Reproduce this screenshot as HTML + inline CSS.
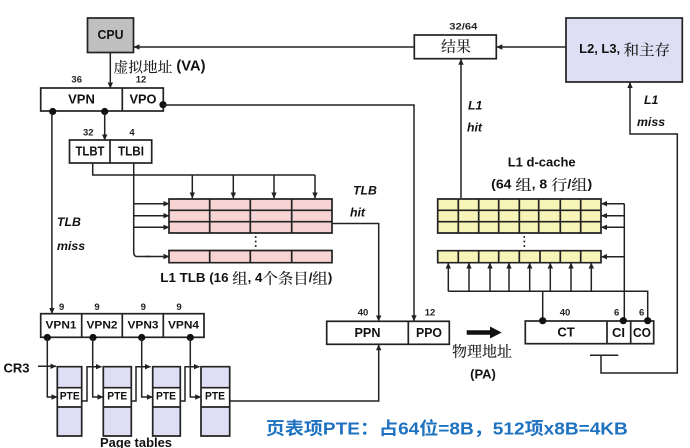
<!DOCTYPE html>
<html><head><meta charset="utf-8"><style>
html,body{margin:0;padding:0;background:#fff;width:690px;height:448px;overflow:hidden}
svg{display:block}
text{font-family:"Liberation Sans","Noto Sans CJK SC",sans-serif;font-weight:700;fill:#111;text-anchor:middle;dominant-baseline:central}
.n{font-size:9.5px;fill:#222}
.l{font-size:13px}
.i{font-size:12.3px;font-style:italic;text-anchor:start}
.s{font-family:"Liberation Sans","Noto Serif CJK SC",serif}
.c{font-family:"Noto Serif CJK SC",serif;font-weight:500;fill:#222}
.z{font-size:15px}
.b{fill:none;stroke:#222;stroke-width:1.7}
.w{fill:none;stroke:#222;stroke-width:1.5}
.a{marker-end:url(#m)}
</style></head><body>
<svg width="690" height="448" viewBox="0 0 690 448" xmlns="http://www.w3.org/2000/svg">
<defs><marker id="m" markerUnits="userSpaceOnUse" markerWidth="7" markerHeight="7" refX="6" refY="3.5" orient="auto"><path d="M0.5 0.8L6.5 3.5L0.5 6.2Z" fill="#222"/></marker></defs>

<!-- CPU -->
<rect x="87.5" y="18" width="46" height="34.5" class="b" style="fill:#c0c0c0"/>
<text x="110.5" y="34.5" class="l" textLength="26" lengthAdjust="spacingAndGlyphs">CPU</text>
<path class="w a" d="M110.3 53V88"/>
<text x="159.5" y="66.5" style="font-size:14.5px" class="s" textLength="92" lengthAdjust="spacingAndGlyphs"><tspan class="c">虚拟地址</tspan> (VA)</text>

<!-- VPN/VPO -->
<rect x="40.7" y="88" width="122.6" height="23" class="b" style="fill:#fff"/>
<path class="b" d="M122.3 88V111"/>
<text x="81.5" y="99" class="l">VPN</text>
<text x="143" y="99" class="l" textLength="27" lengthAdjust="spacingAndGlyphs">VPO</text>
<text x="76.7" y="80" class="n">36</text><text x="141" y="80" class="n">12</text>
<circle cx="52.7" cy="111.5" r="3.6" fill="#111"/><circle cx="104.7" cy="111.5" r="3.6" fill="#111"/><circle cx="163" cy="104.7" r="3.6" fill="#111"/>
<path class="w a" d="M104.7 112V140"/>
<path class="w a" d="M51.9 112V313.5"/>
<path class="w a" d="M163 105H414V320.7"/>

<!-- TLBT -->
<rect x="69.5" y="140" width="82.2" height="23" class="b" style="fill:#fff"/>
<path class="b" d="M110 140V163"/>
<text x="90" y="151" class="l" textLength="29" lengthAdjust="spacingAndGlyphs">TLBT</text>
<text x="131" y="151" class="l" textLength="26" lengthAdjust="spacingAndGlyphs">TLBI</text>
<text x="88.3" y="133" class="n">32</text><text x="132" y="133" class="n">4</text>
<path class="w" d="M92.7 163V175H315"/>
<path class="w a" d="M192.3 175V198"/><path class="w a" d="M233.3 175V198"/><path class="w a" d="M274 175V198"/><path class="w a" d="M315 175V198"/>
<path class="w" d="M133.7 163V252Q133.7 256.5 137 256.5H150"/>
<path class="w a" d="M133.7 203.7H169"/><path class="w a" d="M133.7 215.7H169"/><path class="w a" d="M133.7 227.3H169"/><path class="w a" d="M145 256.5H169"/>

<!-- TLB grid -->
<rect x="169" y="199" width="163" height="34" fill="#f7d3d3"/>
<rect x="169" y="250.5" width="163" height="12.2" fill="#f7d3d3"/>
<path class="b" d="M169 199H332V233H169ZM169 210.3H332M169 221.7H332M209.7 199V233M250.3 199V233M291.7 199V233M169 250.5H332V262.7H169ZM209.7 250.5V262.7M250.3 250.5V262.7M291.7 250.5V262.7"/>
<circle cx="255.7" cy="237" r="1" fill="#222"/><circle cx="255.7" cy="241.5" r="1" fill="#222"/><circle cx="255.7" cy="246" r="1" fill="#222"/>
<text x="246.3" y="277.5" style="font-size:13px" class="s" textLength="172" lengthAdjust="spacingAndGlyphs">L1 TLB (16 <tspan class="c z">组</tspan>, 4<tspan class="c z">个条目</tspan>/<tspan class="c z">组</tspan>)</text>

<text x="57" y="222" class="i">TLB</text><text x="57" y="246" class="i">miss</text>
<text x="353" y="190.7" class="i">TLB</text><text x="350" y="212.7" class="i">hit</text>
<path class="w a" d="M332 223.5H378.7V321"/>

<!-- Result / L2 -->
<rect x="414.3" y="35" width="82" height="23.7" class="b" style="fill:#fff"/>
<text x="456" y="46" class="c" style="font-size:15px">结果</text>
<text x="463.3" y="27" class="n" textLength="28" lengthAdjust="spacingAndGlyphs">32/64</text>
<rect x="566" y="18" width="116.3" height="64" class="b" style="fill:#dedff4"/>
<text x="624.7" y="49" class="s" style="font-size:12.5px" textLength="91" lengthAdjust="spacingAndGlyphs">L2, L3, <tspan class="c z">和主存</tspan></text>
<path class="w a" d="M566 47H496.8"/>
<path class="w a" d="M414 47H134"/>
<path class="w a" d="M461 198V59.2"/>
<text x="468" y="105.7" class="i">L1</text><text x="467" y="127.7" class="i">hit</text>
<text x="644" y="100" class="i">L1</text><text x="637" y="122" class="i">miss</text>
<path class="w a" d="M601 355V373H677.3V134H630V82.5"/>
<path class="w" d="M590 355.3H618.3"/>

<!-- d-cache -->
<text x="541.7" y="162" style="font-size:13px">L1 d-cache</text>
<text x="541.7" y="184" class="s" style="font-size:13px" textLength="101" lengthAdjust="spacingAndGlyphs">(64 <tspan class="c z">组</tspan>, 8 <tspan class="c z">行</tspan>/<tspan class="c z">组</tspan>)</text>
<rect x="437.7" y="199" width="163.3" height="34" fill="#f7f4b8"/>
<rect x="437.7" y="250.7" width="163.3" height="12" fill="#f7f4b8"/>
<path class="b" d="M437.7 199H601V233H437.7ZM437.7 210.3H601M437.7 221.7H601M458.3 199V233M478.7 199V233M498.7 199V233M519.3 199V233M538.7 199V233M560.3 199V233M580.7 199V233M437.7 250.7H601V262.7H437.7ZM458.3 250.7V262.7M478.7 250.7V262.7M498.7 250.7V262.7M519.3 250.7V262.7M540 250.7V262.7M560.3 250.7V262.7M580.7 250.7V262.7"/>
<circle cx="524.3" cy="237" r="1" fill="#222"/><circle cx="524.3" cy="241.5" r="1" fill="#222"/><circle cx="524.3" cy="246" r="1" fill="#222"/>
<path class="w" d="M624.3 321V203.7"/>
<path class="w a" d="M624.3 203.7H601.5"/><path class="w a" d="M624.3 215.7H601.5"/><path class="w a" d="M624.3 227.3H601.5"/><path class="w a" d="M624.3 256.7H601.5"/>
<path class="w" d="M448.3 291.3H647.7V321"/>
<path class="w" d="M542.7 291.3V321"/>
<path class="w a" d="M448.3 291.3V263"/><path class="w a" d="M469 291.3V263"/><path class="w a" d="M490 291.3V263"/><path class="w a" d="M509 291.3V263"/><path class="w a" d="M529.7 291.3V263"/><path class="w a" d="M550.3 291.3V263"/><path class="w a" d="M571 291.3V263"/><path class="w a" d="M591.3 291.3V263"/>

<!-- PPN/PPO -->
<rect x="326.7" y="321.3" width="122.6" height="23" class="b" style="fill:#fff"/>
<path class="b" d="M408.3 321.3V344.3"/>
<text x="367.5" y="332.5" class="l" textLength="26" lengthAdjust="spacingAndGlyphs">PPN</text>
<text x="429" y="332.5" class="l" textLength="26" lengthAdjust="spacingAndGlyphs">PPO</text>
<text x="363" y="313" class="n">40</text><text x="430" y="313" class="n">12</text>
<path d="M466.7 330.3H490V326.5L501.7 332.5L490 338.5V334.7H466.7Z" fill="#111"/>
<text x="482" y="351" class="c" style="font-size:15px">物理地址</text>
<text x="483" y="374" style="font-size:13px">(PA)</text>

<!-- CT -->
<rect x="525.3" y="321" width="128.4" height="22.7" class="b" style="fill:#fff"/>
<path class="b" d="M607 321V343.7M630.7 321V343.7"/>
<text x="566" y="332" class="l">CT</text><text x="618.5" y="332.5" class="l">CI</text><text x="642" y="332.5" class="l" textLength="18" lengthAdjust="spacingAndGlyphs">CO</text>
<text x="565" y="313" class="n">40</text><text x="616.7" y="313" class="n">6</text><text x="641.7" y="313" class="n">6</text>
<circle cx="542.7" cy="320.7" r="3.6" fill="#111"/><circle cx="623.3" cy="320.7" r="3.6" fill="#111"/><circle cx="647.7" cy="320.7" r="3.6" fill="#111"/>

<!-- VPN1-4 -->
<rect x="40.7" y="313.7" width="163.3" height="23.6" class="b" style="fill:#fff"/>
<path class="b" d="M81.7 313.7V337.3M122.3 313.7V337.3M163.3 313.7V337.3"/>
<text x="61" y="325.5" style="font-size:11px" textLength="31" lengthAdjust="spacingAndGlyphs">VPN1</text>
<text x="102" y="325.5" style="font-size:11px" textLength="31" lengthAdjust="spacingAndGlyphs">VPN2</text>
<text x="143" y="325.5" style="font-size:11px" textLength="31" lengthAdjust="spacingAndGlyphs">VPN3</text>
<text x="183.5" y="325.5" style="font-size:11px" textLength="31" lengthAdjust="spacingAndGlyphs">VPN4</text>
<text x="61.7" y="307.3" class="n">9</text><text x="97" y="307.3" class="n">9</text><text x="143.3" y="307.3" class="n">9</text><text x="179" y="307.3" class="n">9</text>
<circle cx="47.3" cy="337.5" r="3.6" fill="#111"/><circle cx="93" cy="337.5" r="3.6" fill="#111"/><circle cx="141.7" cy="337.5" r="3.6" fill="#111"/><circle cx="190.3" cy="337.5" r="3.6" fill="#111"/>

<text x="16.5" y="368" class="l">CR3</text>
<path class="w a" d="M38 366.3H56"/>

<!-- PTE tables -->
<g fill="#dedff4">
<rect x="57.3" y="366.7" width="24.4" height="69.3"/><rect x="103.3" y="366.7" width="28" height="69.3"/><rect x="152.7" y="366.7" width="27.6" height="69.3"/><rect x="201" y="366.7" width="28.7" height="69.3"/>
</g>
<g fill="#fff">
<rect x="57.3" y="387.7" width="24.4" height="19.3"/><rect x="103.3" y="387.7" width="28" height="19.3"/><rect x="152.7" y="387.7" width="27.6" height="19.3"/><rect x="201" y="387.7" width="28.7" height="19.3"/>
</g>
<path class="b" d="M57.3 366.7H81.7V436H57.3ZM57.3 387.7H81.7M57.3 407H81.7M103.3 366.7H131.3V436H103.3ZM103.3 387.7H131.3M103.3 407H131.3M152.7 366.7H180.3V436H152.7ZM152.7 387.7H180.3M152.7 407H180.3M201 366.7H229.7V436H201ZM201 387.7H229.7M201 407H229.7"/>
<text x="69.7" y="396.7" style="font-size:11px" textLength="20" lengthAdjust="spacingAndGlyphs">PTE</text>
<text x="117.3" y="396.7" style="font-size:11px" textLength="20" lengthAdjust="spacingAndGlyphs">PTE</text>
<text x="166" y="396.7" style="font-size:11px" textLength="20" lengthAdjust="spacingAndGlyphs">PTE</text>
<text x="215" y="396.7" style="font-size:11px" textLength="20" lengthAdjust="spacingAndGlyphs">PTE</text>

<path class="w a" d="M47.3 338V397H57"/>
<path class="w a" d="M92.7 338V397H103"/>
<path class="w a" d="M141.7 338V397H152.4"/>
<path class="w a" d="M190.3 338V397H200.7"/>
<path class="w a" d="M81.7 401H87V366.7H101.5"/>
<path class="w a" d="M131.3 401H136V366.7H150.5"/>
<path class="w a" d="M180.3 401H185V366.7H199.5"/>
<path class="w a" d="M229.7 401H378.7V344.8"/>

<text x="136" y="442.5" style="font-size:13px" textLength="72" lengthAdjust="spacingAndGlyphs">Page tables</text>
<text x="446.8" y="428.5" style="font-size:17.5px;fill:#1f72c0" textLength="362" lengthAdjust="spacingAndGlyphs">页表项PTE：占64位=8B，512项x8B=4KB</text>
</svg>
</body></html>
